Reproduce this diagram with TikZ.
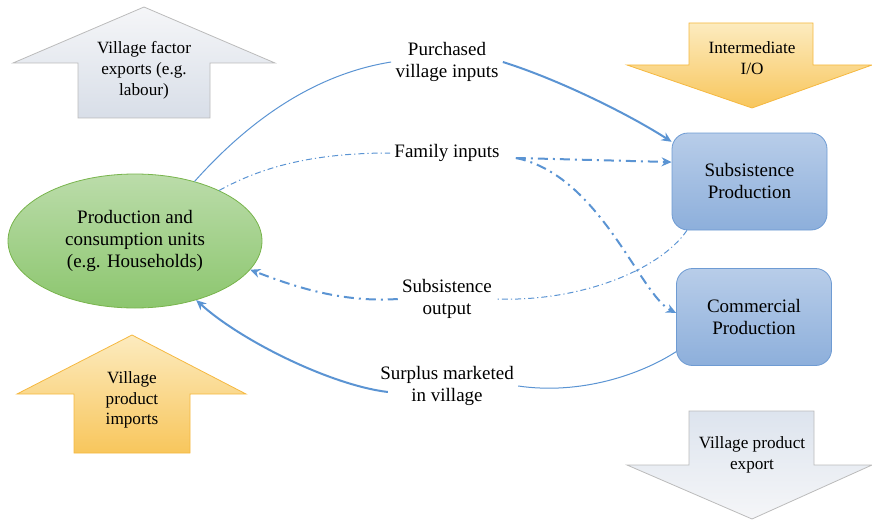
\documentclass[tikz,border=0pt]{standalone}
\usepackage{fontspec}
\setmainfont{Liberation Serif}
\usetikzlibrary{shapes.geometric,arrows.meta}
\definecolor{flowblue}{HTML}{5B94D3}
\definecolor{boxtop}{HTML}{B8CDE9}
\definecolor{boxbot}{HTML}{8DAFDB}
\definecolor{boxline}{HTML}{6E9BD3}
\definecolor{hhtop}{HTML}{BBDCAA}
\definecolor{hhbot}{HTML}{8CC66E}
\definecolor{hhline}{HTML}{78B44C}
\definecolor{ortop}{HTML}{FCEBBF}
\definecolor{orbot}{HTML}{F8C65C}
\definecolor{orline}{HTML}{F5B840}
\definecolor{grtop}{HTML}{F5F6F8}
\definecolor{grbot}{HTML}{D8DEE8}
\definecolor{grblue}{HTML}{DDE4EE}
\definecolor{grline}{HTML}{BBBBBB}
\begin{document}
\begin{tikzpicture}[x=0.5pt,y=0.5pt,
  main/.style={align=center,font=\fontsize{9.5}{11}\selectfont,inner sep=2pt},
  small/.style={align=center,font=\fontsize{8.6}{10.4}\selectfont},
  prodbox/.style={main,draw=boxline,top color=boxtop,bottom color=boxbot,
    rounded corners=8pt,minimum width=77.5pt,minimum height=48.5pt},
  hhnode/.style={main,ellipse,draw=hhline,top color=hhtop,bottom color=hhbot,
    minimum width=127pt,minimum height=67pt,inner sep=0pt},
  orarrow/.style={draw=orline,top color=ortop,bottom color=orbot},
  grarrow/.style={draw=grline,top color=grtop,bottom color=grbot},
  thinflow/.style={draw=flowblue,line width=0.5pt},
  thickflow/.style={draw=flowblue,line width=1pt,-{Stealth[length=5pt,width=4.5pt]}},
  thindash/.style={thinflow,dash pattern=on 3pt off 1.5pt on 0.6pt off 1.5pt},
  thickdash/.style={thickflow,dash pattern=on 5pt off 2.5pt on 1pt off 2.5pt}]
  \useasboundingbox (0,0) rectangle (872,-519);
  \begin{scope}
    \path[grarrow] (144,-7) -- (275,-63) -- (210,-63) -- (210,-118) -- (78,-118) -- (78,-63) -- (13,-63) -- cycle;
    \node[small] (factor) at (144,-70) {Village factor\\exports (e.g.\\labour)};

    \path[orarrow] (689,-23) -- (813,-23) -- (813,-65) -- (872,-65) -- (752,-108) -- (627,-65) -- (689,-65) -- cycle;
    \node[small] (inter) at (752,-58) {Intermediate\\I/O};

    \path[orarrow] (132,-335) -- (246,-394) -- (190,-394) -- (190,-453) -- (74,-453) -- (74,-394) -- (17,-394) -- cycle;
    \node[small] (imports) at (132,-400) {Village\\product\\imports};

    \path[draw=grline,top color=grblue,bottom color=grtop] (689,-411) -- (814,-411) -- (814,-465) -- (872,-465) -- (752,-519) -- (627,-465) -- (689,-465) -- cycle;
    \node[small] (export) at (752,-455) {Village product\\export};

    \node[hhnode] (hh) at (135,-241) {Production and\\consumption units\\(e.g. Households)};
    \node[prodbox] (subs) at (749.5,-181.5) {Subsistence\\Production};
    \node[prodbox] (comm) at (754,-317) {Commercial\\Production};

    \node[main] (purch) at (447,-62) {Purchased\\village inputs};
    \node[main] (fam) at (447,-153) {Family inputs};
    \node[main] (subout) at (447,-299) {Subsistence\\output};
    \node[main] (surplus) at (447,-386) {Surplus marketed\\in village};

    \path[thinflow] (hh.45) .. controls (245,-125) and (310,-75) .. (purch.west);
    \path[thickflow] (purch.east) .. controls (560,-80) and (630,-115) .. (subs.153);

    \path[thindash] (hh.31) .. controls (260,-168) and (310,-153) .. (fam.west);
    \path[thickdash] ([xshift=6pt,yshift=-2.5pt]fam.east) -- (subs.166);
    \path[thickdash] ([xshift=6pt,yshift=-2.5pt]fam.east) .. controls (600,-175) and (640,-295) .. (comm.177);

    \path[thindash] (subs.218) .. controls (660,-270) and (580,-302) .. (subout.east);
    \path[thickdash] (subout.west) .. controls (340,-303) and (290,-285) .. (hh.-14);

    \path[thinflow] (comm.204) .. controls (640,-375) and (580,-395) .. (surplus.east);
    \path[thickflow] ([xshift=6pt,yshift=-3pt]surplus.west) .. controls (330,-385) and (240,-340) .. (hh.-44);
  \end{scope}
\end{tikzpicture}
\end{document}
